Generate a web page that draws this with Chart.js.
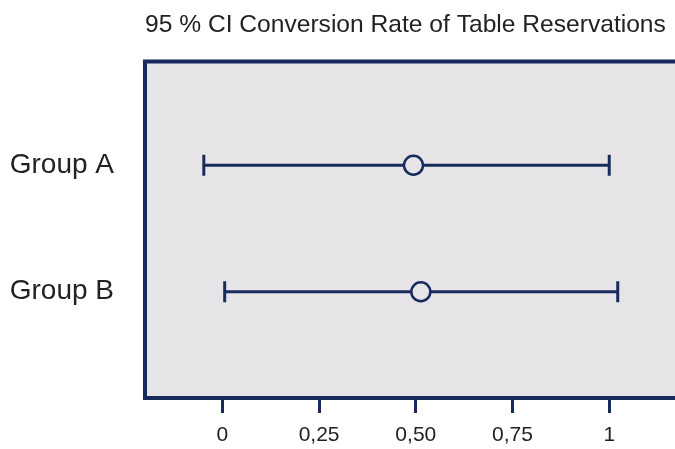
<!DOCTYPE html>
<html>
<head>
<meta charset="utf-8">
<script src="https://cdn.jsdelivr.net/npm/chart.js@4"></script>
<style>
  html, body { margin: 0; padding: 0; background: #fff; overflow: hidden; }
  #wrap { width: 675px; height: 449px; }
</style>
</head>
<body>
<div id="wrap"><canvas id="myChart" width="675" height="449"></canvas></div>
<script>
const groups = ['Group A', 'Group B'];
const lower = [-0.048, 0.006];
const center = [0.494, 0.513];
const upper = [1.0, 1.022];
const xTicks = [0, 0.25, 0.5, 0.75, 1];
const xTickLabels = ['0', '0,25', '0,50', '0,75', '1'];

const navy = '#172b5c';
const plotBg = '#e6e4e6';
const font = 'Liberation Sans, Arial, sans-serif';

// fond gris + cadre du graphique
const frame = {
  id: 'frame',
  beforeDraw(chart) {
    const a = chart.chartArea;
    const c = chart.ctx;
    c.save();
    c.fillStyle = plotBg;
    c.fillRect(a.left, a.top, a.right - a.left + 10, a.bottom - a.top);
    c.restore();
  },
  beforeDatasetsDraw(chart) {
    const a = chart.chartArea;
    const c = chart.ctx;
    c.save();
    c.strokeStyle = navy;
    c.lineWidth = 4;
    c.beginPath();
    c.moveTo(a.right + 10, a.top);
    c.lineTo(a.left, a.top);
    c.lineTo(a.left, a.bottom);
    c.lineTo(a.right + 10, a.bottom);
    c.stroke();
    c.restore();
  }
};

const ciSets = groups.map((g, i) => ({
  type: 'line',
  label: g,
  data: [{ x: lower[i], y: i }, { x: upper[i], y: i }],
  borderColor: navy,
  borderWidth: 3,
  pointStyle: 'line',
  rotation: 90,
  pointRadius: 10.5,
  pointBorderWidth: 3,
  pointBorderColor: navy,
  order: 1
}));

const ctx = document.getElementById('myChart');

new Chart(ctx, {
  type: 'scatter',
  data: {
    datasets: [{
      label: 'mean',
      data: center.map((v, i) => ({ x: v, y: i })),
      pointRadius: 9.5,
      pointBorderWidth: 2.5,
      pointBorderColor: navy,
      pointBackgroundColor: plotBg,
      order: 0
    }].concat(ciSets)
  },
  options: {
    responsive: false,
    animation: false,
    layout: { autoPadding: false, padding: 0 },
    plugins: {
      legend: { display: false },
      tooltip: { enabled: false },
      title: {
        display: true,
        text: '95 % CI Conversion Rate of Table Reservations',
        fullSize: false,
        align: 'start',
        color: '#222',
        font: { family: font, size: 24.6, weight: 'normal' },
        padding: { top: 10, bottom: 22 }
      }
    },
    scales: {
      x: {
        type: 'linear',
        min: -0.2,
        max: 1.17,
        afterBuildTicks: s => { s.ticks = xTicks.map(v => ({ value: v })); },
        afterFit: s => { s.height = 51; },
        border: { display: false },
        grid: { drawOnChartArea: false, drawTicks: true, tickLength: 15, tickWidth: 3, tickColor: navy },
        ticks: {
          color: '#222',
          padding: 10,
          font: { family: font, size: 21 },
          callback: (v) => xTickLabels[xTicks.indexOf(v)]
        }
      },
      y: {
        type: 'linear',
        min: -0.82,
        max: 1.84,
        reverse: true,
        afterBuildTicks: s => { s.ticks = groups.map((g, i) => ({ value: i })); },
        afterFit: s => { s.width = 145; },
        border: { display: false },
        grid: { display: false, drawTicks: false },
        ticks: {
          color: '#222',
          padding: 31,
          font: { family: font, size: 28 },
          callback: (v) => groups[v]
        }
      }
    }
  },
  plugins: [frame]
});
</script>
</body>
</html>
